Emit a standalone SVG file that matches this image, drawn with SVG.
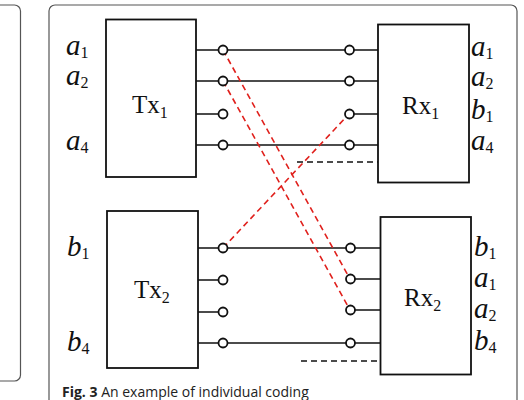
<svg xmlns="http://www.w3.org/2000/svg" width="524" height="400" viewBox="0 0 524 400">
<style>
.panel{fill:#fff;stroke:#555;stroke-width:1.2}
.box{fill:#fff;stroke:#111;stroke-width:1.8}
.w{stroke:#111;stroke-width:1.6;fill:none}
.c{fill:#fff;stroke:#111;stroke-width:1.8}
.red{stroke:#e0201c;stroke-width:1.6;stroke-dasharray:6 4;fill:none}
.blk{stroke:#111;stroke-width:1.6;stroke-dasharray:6 4;fill:none}
.lbl{font-family:"Liberation Serif",serif;font-style:italic;font-size:29px;fill:#111}
.sub{font-family:"Liberation Serif",serif;font-style:normal;font-size:16px}
.name{font-family:"Liberation Serif",serif;font-size:25px;fill:#111}
.cap{font-family:"Open Sans",sans-serif;font-size:14px;fill:#222}
</style>
<rect class="panel" x="-30" y="5" width="50.5" height="376" rx="6"/>
<rect class="panel" x="49" y="5" width="468" height="420" rx="6"/>
<g id="connectors">
<line class="w" x1="227" y1="50" x2="345" y2="50"/>
<line class="w" x1="227" y1="81" x2="345" y2="81"/>
<line class="w" x1="227" y1="145" x2="345" y2="145"/>
<line class="w" x1="227" y1="248" x2="346" y2="248"/>
<line class="w" x1="227" y1="343" x2="346" y2="343"/>
<line class="red" x1="223" y1="50" x2="350" y2="279"/>
<line class="red" x1="223" y1="81" x2="350" y2="310"/>
<line class="red" x1="223" y1="248" x2="349" y2="114"/>
<line class="blk" x1="297" y1="162" x2="378" y2="162"/>
<line class="blk" x1="301" y1="361" x2="380" y2="361"/>
</g>
<g id="tx1">
<rect class="box" x="106" y="19.5" width="90" height="157.5"/>
<text class="name" x="132" y="113">Tx<tspan class="sub" dy="5">1</tspan></text>
<path class="w" d="M196 50H218M196 81H218M196 114H218M196 145H218"/>
<circle class="c" cx="223" cy="50" r="4.5"/>
<circle class="c" cx="223" cy="81" r="4.5"/>
<circle class="c" cx="223" cy="114" r="4.5"/>
<circle class="c" cx="223" cy="145" r="4.5"/>
<text class="lbl" x="66" y="55">a<tspan class="sub" dy="3">1</tspan></text>
<text class="lbl" x="66" y="85">a<tspan class="sub" dy="3">2</tspan></text>
<text class="lbl" x="66" y="150">a<tspan class="sub" dy="3">4</tspan></text>
</g>
<g id="rx1">
<rect class="box" x="378" y="24.5" width="91" height="158"/>
<text class="name" x="402" y="114">Rx<tspan class="sub" dy="5">1</tspan></text>
<path class="w" d="M354 50H378M354 81H378M354 114H378M354 145H378"/>
<circle class="c" cx="349.5" cy="50" r="4.5"/>
<circle class="c" cx="349.5" cy="81" r="4.5"/>
<circle class="c" cx="349.5" cy="114" r="4.5"/>
<circle class="c" cx="349.5" cy="145" r="4.5"/>
<text class="lbl" x="471" y="56">a<tspan class="sub" dy="3">1</tspan></text>
<text class="lbl" x="471" y="86">a<tspan class="sub" dy="3">2</tspan></text>
<text class="lbl" x="471" y="119">b<tspan class="sub" dy="3">1</tspan></text>
<text class="lbl" x="471" y="150">a<tspan class="sub" dy="3">4</tspan></text>
</g>
<g id="tx2">
<rect class="box" x="107" y="211" width="91" height="157"/>
<text class="name" x="134" y="298">Tx<tspan class="sub" dy="5">2</tspan></text>
<path class="w" d="M198 248H218M198 280H218M198 312H218M198 343H218"/>
<circle class="c" cx="223" cy="248" r="4.5"/>
<circle class="c" cx="223" cy="280" r="4.5"/>
<circle class="c" cx="223" cy="312" r="4.5"/>
<circle class="c" cx="223" cy="343" r="4.5"/>
<text class="lbl" x="67" y="256">b<tspan class="sub" dy="3">1</tspan></text>
<text class="lbl" x="67" y="351">b<tspan class="sub" dy="3">4</tspan></text>
</g>
<g id="rx2">
<rect class="box" x="380.5" y="217" width="90.5" height="157.5"/>
<text class="name" x="404" y="306">Rx<tspan class="sub" dy="5">2</tspan></text>
<path class="w" d="M355 248H380.5M355 279H380.5M355 310H380.5M355 343H380.5"/>
<circle class="c" cx="350.5" cy="248" r="4.5"/>
<circle class="c" cx="350.5" cy="279" r="4.5"/>
<circle class="c" cx="350.5" cy="310" r="4.5"/>
<circle class="c" cx="350.5" cy="343" r="4.5"/>
<text class="lbl" x="474" y="256">b<tspan class="sub" dy="3">1</tspan></text>
<text class="lbl" x="474" y="287">a<tspan class="sub" dy="3">1</tspan></text>
<text class="lbl" x="474" y="318">a<tspan class="sub" dy="3">2</tspan></text>
<text class="lbl" x="474" y="350">b<tspan class="sub" dy="3">4</tspan></text>
</g>
<text class="cap" x="62" y="397"><tspan font-weight="bold">Fig. 3</tspan> An example of individual coding</text>
</svg>
